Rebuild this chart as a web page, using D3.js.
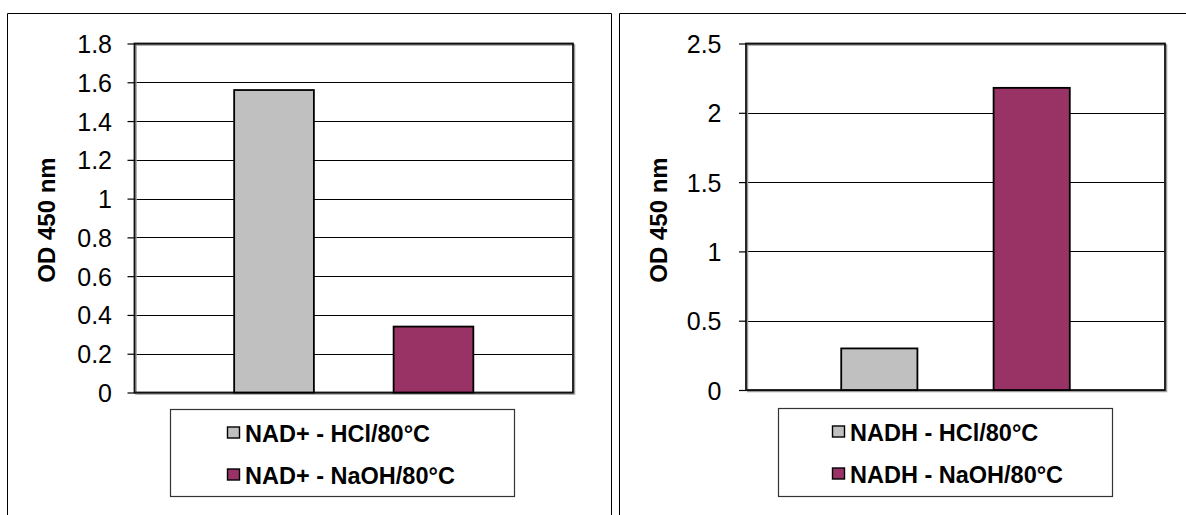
<!DOCTYPE html>
<html>
<head>
<meta charset="utf-8">
<script src="https://cdn.jsdelivr.net/npm/d3@7"></script>
<style>
  html, body { margin: 0; padding: 0; background: #fff; }
  svg { display: block; }
  text { font-family: "Liberation Sans", Arial, sans-serif; fill: #000; }
</style>
</head>
<body>
<svg id="chart" width="1186" height="515"></svg>
<script>
// ---------- data ----------
const leftCategories = ["NAD+ - HCl/80°C", "NAD+ - NaOH/80°C"];
const leftValues = [1.56, 0.34];
const leftTicks = [0, 0.2, 0.4, 0.6, 0.8, 1, 1.2, 1.4, 1.6, 1.8];

const rightCategories = ["NADH - HCl/80°C", "NADH - NaOH/80°C"];
const rightValues = [0.30, 2.18];
const rightTicks = [0, 0.5, 1, 1.5, 2, 2.5];

const seriesColors = ["#C0C0C0", "#993366"];
const yAxisTitle = "OD 450 nm";

// ---------- drawing ----------
const svg = d3.select("#chart");

function drawPanel(cfg) {
  const g = svg.append("g");

  g.append("path")
    .attr("d", cfg.panelPath)
    .attr("fill", "none")
    .attr("stroke", "#000")
    .attr("stroke-width", 1);

  const y = d3.scaleLinear()
    .domain([0, d3.max(cfg.ticks)])
    .range([cfg.plot.bottom, cfg.plot.top]);

  const x = d3.scaleBand()
    .domain(cfg.categories)
    .range([cfg.plot.left, cfg.plot.right])
    .paddingInner(0.5)
    .paddingOuter(0.625);

  // gridlines
  g.append("g").selectAll("line")
    .data(cfg.ticks)
    .join("line")
    .attr("x1", cfg.plot.left)
    .attr("x2", cfg.plot.right)
    .attr("y1", d => Math.round(y(d)) + 0.5)
    .attr("y2", d => Math.round(y(d)) + 0.5)
    .attr("stroke", "#000")
    .attr("stroke-width", 1.2);

  // plot frame shadow + frame
  g.append("rect")
    .attr("x", cfg.plot.left + 1.5)
    .attr("y", cfg.plot.top + 1.5)
    .attr("width", cfg.plot.right - cfg.plot.left)
    .attr("height", cfg.plot.bottom - cfg.plot.top)
    .attr("fill", "none")
    .attr("stroke", "#9a9a9a")
    .attr("stroke-width", 1.5);
  g.append("rect")
    .attr("x", cfg.plot.left)
    .attr("y", cfg.plot.top)
    .attr("width", cfg.plot.right - cfg.plot.left)
    .attr("height", cfg.plot.bottom - cfg.plot.top)
    .attr("fill", "none")
    .attr("stroke", "#111")
    .attr("stroke-width", 1.8);

  // bars
  g.append("g").selectAll("rect")
    .data(cfg.categories.map((c, i) => ({ c, v: cfg.values[i], color: seriesColors[i] })))
    .join("rect")
    .attr("x", d => x(d.c))
    .attr("width", x.bandwidth())
    .attr("y", d => y(d.v))
    .attr("height", d => y(0) - y(d.v))
    .attr("fill", d => d.color)
    .attr("stroke", "#000")
    .attr("stroke-width", 1.8);

  // y axis
  const tickSize = 7;
  const axis = d3.axisLeft(y)
    .tickValues(cfg.ticks)
    .tickSize(tickSize)
    .tickPadding(cfg.labelOffset - tickSize)
    .tickFormat(d => String(+d.toFixed(1)));
  const ax = g.append("g")
    .attr("transform", `translate(${cfg.plot.left},0)`)
    .call(axis);
  ax.select(".domain").remove();
  ax.selectAll(".tick line").attr("stroke", "#000").attr("stroke-width", 1.2);
  ax.selectAll(".tick text")
    .attr("font-family", "Liberation Sans, Arial, sans-serif")
    .attr("font-size", 25)
    .attr("fill", "#000")
    .attr("dy", "0.36em");

  // y axis title
  g.append("text")
    .attr("transform", `translate(${cfg.titleX},${cfg.titleY}) rotate(-90)`)
    .attr("text-anchor", "middle")
    .attr("dy", "0.36em")
    .attr("font-size", 24)
    .attr("font-weight", "bold")
    .text(yAxisTitle);

  // legend
  const L = cfg.legend;
  g.append("rect")
    .attr("x", L.x + 0.5)
    .attr("y", L.y + 0.5)
    .attr("width", L.w)
    .attr("height", L.h)
    .attr("fill", "#fff")
    .attr("stroke", "#333")
    .attr("stroke-width", 1.2);
  const items = g.append("g").selectAll("g")
    .data(cfg.categories.map((c, i) => ({ c, color: seriesColors[i], i })))
    .join("g")
    .attr("transform", d => `translate(${L.itemX},${L.baseline0 + d.i * L.rowGap})`);
  items.append("rect")
    .attr("x", 0.5)
    .attr("y", -14.5)
    .attr("width", 12)
    .attr("height", 11)
    .attr("fill", d => d.color)
    .attr("stroke", "#000")
    .attr("stroke-width", 1.4);
  items.append("text")
    .attr("x", 18)
    .attr("font-size", 23.5)
    .attr("font-weight", "bold")
    .text(d => d.c);
}

drawPanel({
  panelPath: "M7.5,515 V13.5 H611.5 V515",
  plot: { left: 134.5, right: 573, top: 43.5, bottom: 392.5 },
  ticks: leftTicks,
  categories: leftCategories,
  values: leftValues,
  labelOffset: 22.5,
  titleX: 46,
  titleY: 220,
  legend: { x: 170, y: 409, w: 344, h: 87, itemX: 227, baseline0: 441.5, rowGap: 42 }
});

drawPanel({
  panelPath: "M619.5,515 V13.5 H1186",
  plot: { left: 746, right: 1165, top: 43.5, bottom: 390 },
  ticks: rightTicks,
  categories: rightCategories,
  values: rightValues,
  labelOffset: 24.5,
  titleX: 658,
  titleY: 220,
  legend: { x: 778, y: 408, w: 334, h: 88, itemX: 832, baseline0: 440.5, rowGap: 42 }
});
</script>
</body>
</html>
